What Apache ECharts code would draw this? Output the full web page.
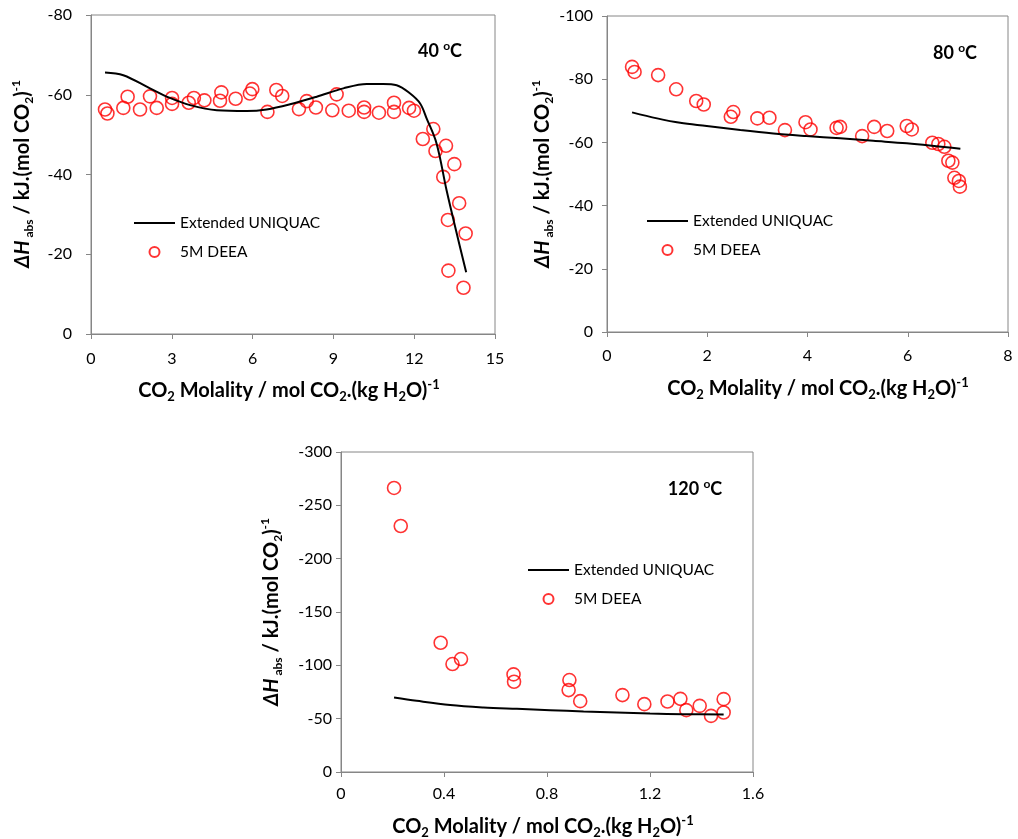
<!DOCTYPE html>
<html><head><meta charset="utf-8">
<script src="https://cdn.jsdelivr.net/npm/echarts@6/dist/echarts.min.js"></script>
<style>html,body{margin:0;padding:0;background:#fff}#c{width:1018px;height:839px}</style>
</head><body><div id="c"></div>
<script>
// ---- 40 °C ----
const model40X = [0.52,1.2,2.19,2.93,3.68,4.67,5.78,6.52,7.39,8.38,9.37,10.24,10.85,11.35,11.85,12.22,12.46,12.83,13.2,13.58,13.93];
const model40Y = [-65.6,-64.9,-61.6,-59.2,-57.4,-56.1,-55.9,-56.3,-57.6,-59.5,-61.6,-62.7,-62.7,-62.4,-60.3,-57.8,-54.1,-47.8,-36.1,-25.2,-15.5];
const exp40X = [0.52,0.61,1.2,1.36,1.82,2.19,2.44,3.01,3.01,3.63,3.82,4.21,4.84,4.79,5.37,5.9,5.99,6.55,6.88,7.1,7.72,8.01,8.35,8.96,9.12,9.57,10.14,10.14,10.69,11.25,11.25,11.81,11.99,12.71,12.32,13.18,12.79,13.49,13.08,13.67,13.25,13.91,13.27,13.83];
const exp40Y = [-56.3,-55.3,-56.7,-59.5,-56.3,-59.6,-56.7,-59.2,-57.7,-58,-59.2,-58.6,-60.6,-58.5,-59,-60.3,-61.4,-55.7,-61.2,-59.7,-56.4,-58.4,-56.8,-56.1,-60.1,-56,-56.8,-55.7,-55.5,-58,-55.7,-56.7,-56,-51.4,-48.9,-47.2,-45.9,-42.6,-39.4,-32.8,-28.6,-25.2,-15.9,-11.6];
// ---- 80 °C ----
const model80X = [0.5,1.0,1.46,1.99,2.66,3.32,3.98,4.65,5.31,5.98,7.05];
const model80Y = [-69.5,-67.6,-66.2,-65.2,-63.9,-62.8,-62,-61.3,-60.5,-59.7,-58];
const exp80X = [0.5,0.55,1.02,1.38,1.78,1.93,2.47,2.52,3.0,3.24,3.55,3.96,4.06,4.58,4.65,5.09,5.33,5.59,5.98,6.08,6.49,6.61,6.73,6.81,6.89,6.93,7.02,7.04];
const exp80Y = [-83.9,-82.3,-81.3,-76.8,-73.1,-72,-68.1,-69.6,-67.6,-67.8,-63.9,-66.4,-64.1,-64.6,-64.9,-62,-64.9,-63.6,-65.2,-64.1,-59.9,-59.5,-58.6,-54.2,-53.6,-48.8,-47.8,-46];
// ---- 120 °C ----
const model120X = [0.206,0.294,0.424,0.553,0.683,0.812,0.942,1.071,1.2,1.33,1.486];
const model120Y = [-69.9,-66.7,-62.7,-60.5,-59.2,-58,-56.7,-55.8,-54.8,-54.2,-53.9];
const exp120X = [0.206,0.232,0.387,0.433,0.466,0.67,0.672,0.887,0.884,0.929,1.093,1.178,1.268,1.318,1.341,1.393,1.437,1.486,1.486];
const exp120Y = [-266.3,-230.6,-121.2,-101.2,-105.9,-91.5,-84.6,-86.2,-76.8,-66.4,-72.1,-63.6,-66.1,-68.6,-58,-62,-52.6,-68.3,-55.8];
// ---- axes ----
const xAxes = [{min:0,max:15,interval:3},{min:0,max:8,interval:2},{min:0,max:1.6,interval:0.4}];
const yAxes = [{min:-80,max:0,interval:20},{min:-100,max:0,interval:20},{min:-300,max:0,interval:50}];
const tempLabels = ['40','80','120'];
const seriesNames = ['Extended UNIQUAC','5M DEEA'];

const zip = (a,b) => a.map((v,i)=>[v,b[i]]);
const FONT = 'Lato';
const GRAY = '#868686';
const grids = [
  {left:91, top:15, width:404, height:319},
  {left:607, top:16, width:401, height:316},
  {left:341, top:452, width:412, height:320}
];
const yMargins = [19,14,9];
const xMargins = [17,16,14];

const chart = echarts.init(document.getElementById('c'), null, {renderer:'canvas'});
const models = [[model40X,model40Y],[model80X,model80Y],[model120X,model120Y]];
const exps = [[exp40X,exp40Y],[exp80X,exp80Y],[exp120X,exp120Y]];

const series = [];
models.forEach((m,i)=>{
  series.push({name:seriesNames[0], type:'line', xAxisIndex:i, yAxisIndex:i, data:zip(m[0],m[1]),
    symbol:'none', showSymbol:false, smooth:0.35, lineStyle:{color:'#000',width:2}, itemStyle:{color:'#000'}, z:3, animation:false});
  series.push({name:seriesNames[1], type:'scatter', xAxisIndex:i, yAxisIndex:i, data:zip(exps[i][0],exps[i][1]),
    symbol:'circle', symbolSize:13, itemStyle:{color:'rgba(255,0,0,0)', borderColor:'#ff0000', borderWidth:1.6}, z:2, animation:false});
});

const legendPos = [{left:133, top:215},{left:646, top:213},{left:527, top:562}];
const legends = legendPos.map(p=>({
  left:p.left, top:p.top, orient:'vertical', padding:0, itemGap:13, itemWidth:41, itemHeight:10,
  data:[{name:seriesNames[0], itemStyle:{color:'rgba(0,0,0,0)', borderColor:'rgba(0,0,0,0)', borderWidth:0}}, seriesNames[1]],
  selectedMode:false,
  textStyle:{fontFamily:FONT, fontSize:15.5, color:'#000'}
}));

const mkRich = (big, small) => ({
  n:{fontFamily:FONT, fontWeight:'bold', fontSize:big, color:'#000', lineHeight:big+5},
  s:{fontFamily:FONT, fontWeight:'bold', fontSize:small, color:'#000', lineHeight:small, verticalAlign:'bottom'},
  p:{fontFamily:FONT, fontWeight:'bold', fontSize:small, color:'#000', lineHeight:small, verticalAlign:'top'},
  i:{fontFamily:FONT, fontWeight:'bold', fontStyle:'italic', fontSize:big, color:'#000', lineHeight:big+5}
});
const xRich = mkRich(20, 13);
const yRich = mkRich(20, 12);
const xTitle = '{n|CO}{s|2}{n| Molality / mol CO}{s|2}{n|.(kg H}{s|2}{n|O)}{p|-1}';
const yTitle = '{i|ΔH}{s| abs}{n| / kJ.(mol CO}{s|2}{n|)}{p|-1}';
const xTitlePos = [[289,391],[818,389],[543,827]];
const yTitlePos = [[23,174],[543,174],[272,612]];
const tempPos = [[440,51],[955,53],[695,489]];

const graphic = [];
xTitlePos.forEach(p=>graphic.push({type:'text', x:p[0], y:p[1], style:{text:xTitle, rich:xRich, align:'center', verticalAlign:'middle'}}));
yTitlePos.forEach(p=>graphic.push({type:'text', x:p[0], y:p[1], rotation:Math.PI/2, style:{text:yTitle, rich:yRich, align:'center', verticalAlign:'middle'}}));
tempPos.forEach((p,i)=>graphic.push({type:'text', x:p[0], y:p[1], style:{
  text:'{t|'+tempLabels[i]+' }{o|o}{t|C}', align:'center', verticalAlign:'middle',
  rich:{t:{fontFamily:FONT, fontWeight:'bold', fontSize:18, color:'#000', lineHeight:22},
        o:{fontFamily:FONT, fontWeight:'bold', fontSize:12, color:'#000', lineHeight:12, verticalAlign:'top'}}}}));

chart.setOption({
  animation:false,
  backgroundColor:'#fff',
  grid: grids.map(g=>Object.assign({show:true, borderColor:GRAY, borderWidth:1, backgroundColor:'transparent'}, g)),
  xAxis: xAxes.map((a,i)=>({type:'value', gridIndex:i, min:a.min, max:a.max, interval:a.interval,
    axisLine:{show:true, onZero:false, lineStyle:{color:GRAY,width:1}},
    axisTick:{show:true, inside:false, length:5, lineStyle:{color:GRAY}},
    splitLine:{show:false},
    axisLabel:{fontFamily:FONT, fontSize:16, color:'#000', margin:xMargins[i]}})),
  yAxis: yAxes.map((a,i)=>({type:'value', gridIndex:i, min:a.min, max:a.max, interval:a.interval, inverse:true,
    axisLine:{show:true, onZero:false, lineStyle:{color:GRAY,width:1}},
    axisTick:{show:true, inside:false, length:5, lineStyle:{color:GRAY}},
    splitLine:{show:false},
    axisLabel:{fontFamily:FONT, fontSize:16, color:'#000', margin:yMargins[i]}})),
  legend: legends,
  series: series,
  graphic: graphic
});
</script></body></html>
